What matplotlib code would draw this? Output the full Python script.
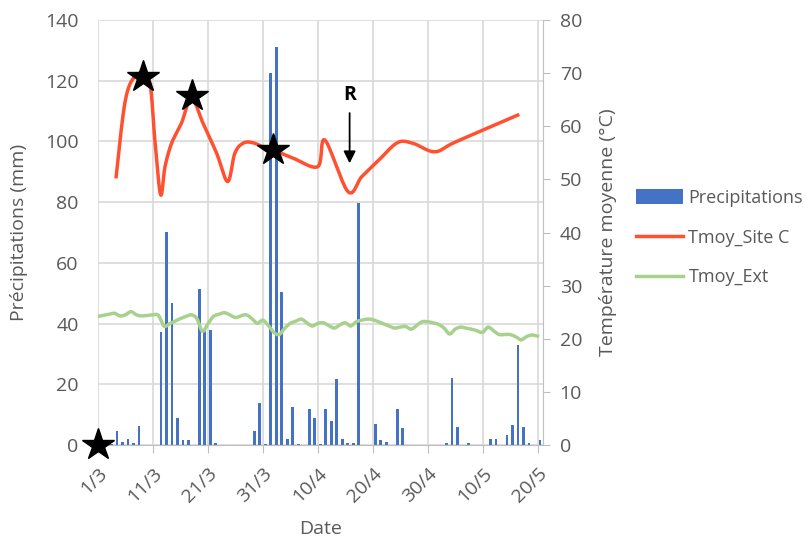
import numpy as np
import matplotlib
matplotlib.use("Agg")
import matplotlib.pyplot as plt
from matplotlib.patches import Patch
from matplotlib.lines import Line2D

plt.rcParams['font.family'] = ['Open Sans', 'DejaVu Sans']

# ---- data ----
tick_days = [0, 10, 20, 30, 40, 50, 60, 70, 80]
tick_labels = ["1/3", "11/3", "21/3", "31/3", "10/4", "20/4", "30/4", "10/5", "20/5"]

rain_days = [2, 3, 4, 5, 6, 7, 11, 12, 13, 14, 15, 16, 18, 19, 20, 21, 28, 29, 30, 31, 32, 33,
             34, 35, 36, 38, 39, 40, 41, 42, 43, 44, 45, 46, 47, 50, 51, 52, 54, 55, 63, 64, 65,
             67, 71, 72, 74, 75, 76, 77, 78, 80]
rain_mm = [0.3, 4.5, 1.0, 2.1, 0.5, 6.1, 37.1, 70.3, 46.9, 9.0, 1.6, 1.6, 51.5, 37.5, 37.9, 0.5,
           4.5, 13.7, 0.4, 122.6, 131.2, 50.3, 2.1, 12.4, 0.4, 11.9, 9.0, 0.4, 11.9, 7.9, 21.6,
           2.1, 0.5, 0.5, 79.6, 6.8, 1.6, 1.0, 11.9, 5.5, 0.5, 22.2, 6.0, 0.5, 2.1, 2.1, 3.2, 6.6,
           33.0, 6.0, 0.5, 1.6]

site_days = [3.3, 5.0, 7.0, 9.3, 10.4, 11.4, 12.2, 13.4, 15.2, 17.0, 19.1, 21.6, 23.6, 24.9,
             26.4, 28.2, 30.7, 32.0, 35.5, 40.0, 41.3, 45.5, 48.0, 51.0, 54.5, 57.3, 61.3, 65.2, 76.4]
site_temp = [50.5, 65.0, 69.6, 68.8, 56.8, 47.1, 52.4, 56.8, 60.6, 65.3, 60.6, 54.9, 49.6, 54.9,
             56.8, 56.9, 55.8, 55.5, 54.0, 52.4, 57.4, 47.7, 50.5, 53.5, 56.9, 56.8, 55.2, 57.1, 62.1]

ext_temp = [24.2, 24.4, 24.6, 24.8, 24.3, 24.5, 25.1, 24.5, 24.3, 24.4, 24.5, 24.4, 22.4, 22.8,
            23.3, 23.8, 24.2, 24.5, 23.8, 21.4, 22.8, 24.2, 24.6, 24.9, 24.5, 24.0, 24.3, 24.5,
            23.8, 22.9, 23.5, 22.5, 21.2, 20.8, 22.0, 22.9, 23.3, 23.7, 23.0, 22.4, 22.9, 23.0,
            22.5, 22.0, 22.6, 23.0, 22.4, 23.2, 23.5, 23.7, 23.6, 23.2, 22.8, 22.4, 22.0, 22.2,
            22.3, 21.8, 22.5, 23.2, 23.2, 23.0, 22.7, 22.0, 20.9, 21.8, 22.2, 22.0, 21.8, 21.5,
            21.2, 22.2, 21.5, 20.8, 20.8, 20.8, 20.4, 19.8, 20.4, 20.7, 20.5]
ext_days = list(range(len(ext_temp)))

star_days = [8.2, 17.1, 31.8]
star_temp = [69.3, 65.7, 55.5]


def smooth(xs, ys, n=20):
    # Catmull-Rom (Excel-like smoothing), parametric
    P = np.column_stack([xs, ys]).astype(float)
    P = np.vstack([P[0], P, P[-1]])
    out = []
    for i in range(1, len(P) - 2):
        p0, p1, p2, p3 = P[i - 1], P[i], P[i + 1], P[i + 2]
        t = np.linspace(0, 1, n, endpoint=False)[:, None]
        seg = 0.5 * ((2 * p1) + (-p0 + p2) * t + (2 * p0 - 5 * p1 + 4 * p2 - p3) * t ** 2
                     + (-p0 + 3 * p1 - 3 * p2 + p3) * t ** 3)
        out.append(seg)
    out.append(P[-2][None, :])
    out = np.vstack(out)
    return out[:, 0], out[:, 1]


grey = '#595959'
grid = '#d9d9d9'

fig = plt.figure(figsize=(8.07, 5.40), dpi=100)
ax = fig.add_axes([98 / 807, 1 - 445 / 540, (543 - 98) / 807, (445 - 20) / 540])
ax2 = ax.twinx()

ax.bar(np.array(rain_days) + 0.45, rain_mm, width=0.5, color='#4472c4', zorder=2)
ax.set_xlim(0, 81)
ax.set_ylim(0, 140)
ax.set_yticks(range(0, 141, 20))
ax.set_xticks(tick_days)
ax.set_xticklabels(tick_labels, rotation=45, ha='right', va='top', rotation_mode='anchor')
ax.grid(True, color=grid, lw=1.2, zorder=0)
ax.set_axisbelow(True)
for s in ['top', 'left', 'right']:
    ax.spines[s].set_visible(False)
ax.spines['bottom'].set_color('#bfbfbf')
ax.tick_params(axis='y', colors=grey, labelsize=14, length=0, pad=14)
ax.tick_params(axis='x', colors=grey, labelsize=14, length=6, pad=8)
ax.tick_params(axis='x', color='#bfbfbf')
ax.set_ylabel('Précipitations (mm)', color=grey, fontsize=14, labelpad=12)
ax.set_xlabel('Date', color=grey, fontsize=14, labelpad=10)

sx, sy = smooth(site_days, site_temp)
ax2.plot(sx, sy, color='#ff5030', lw=2.5, zorder=3)
ex, ey = smooth(ext_days, ext_temp, n=8)
ax2.plot(ex, ey, color='#a9d18e', lw=2.5, zorder=3)
ax2.plot(star_days, star_temp, marker='*', ls='none', color='black', ms=24, zorder=5)
ax2.plot([0], [0], marker='*', ls='none', color='black', ms=24, zorder=5, clip_on=False)
ax2.set_ylim(0, 80)
ax2.set_yticks(range(0, 81, 10))
for s in ['top', 'left', 'bottom']:
    ax2.spines[s].set_visible(False)
ax2.spines['right'].set_color('#bfbfbf')
ax2.tick_params(axis='y', colors=grey, labelsize=14, length=5, pad=7)
ax2.tick_params(axis='y', color='#bfbfbf')
ax2.set_ylabel('Température moyenne (°C)', color=grey, fontsize=14, labelpad=12)

ax2.annotate('', xy=(45.8, 52.5), xytext=(45.8, 63.0),
             arrowprops=dict(arrowstyle='-|>', color='black', lw=1.3, mutation_scale=18))
ax2.text(45.8, 64.0, 'R', ha='center', va='bottom', fontsize=14, fontweight='bold', color='black')

handles = [Patch(facecolor='#4472c4', edgecolor='none'),
           Line2D([], [], color='#ff5030', lw=2.5),
           Line2D([], [], color='#a9d18e', lw=2.5)]
fig.legend(handles, ['Precipitations', 'Tmoy_Site C', 'Tmoy_Ext'], loc='upper left',
           bbox_to_anchor=(0.768, 0.68), frameon=False, fontsize=13, labelcolor=grey,
           handlelength=2.6, handleheight=0.9, labelspacing=1.2, handletextpad=0.3)

fig.savefig('out.png', dpi=100)
